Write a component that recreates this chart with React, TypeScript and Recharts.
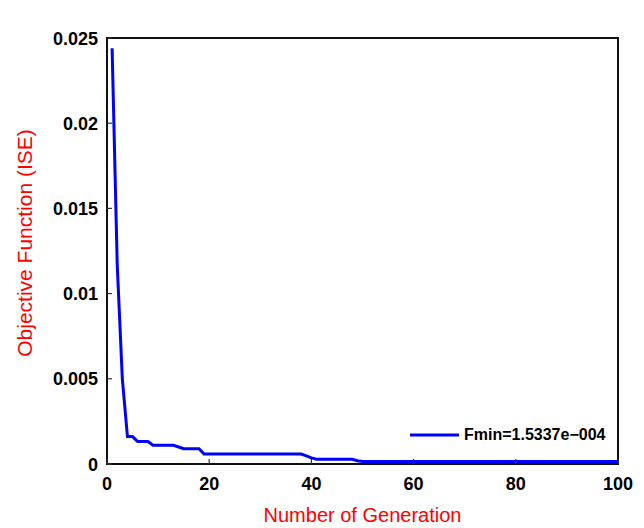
import { LineChart, Line, XAxis, YAxis, Legend, Label, ReferenceArea } from 'recharts';

// best objective value per generation
const objective = [
  0.0244, 0.0117, 0.005, 0.00161, 0.00161, 0.00132, 0.00132, 0.00132, 0.0011, 0.0011,
  0.0011, 0.0011, 0.0011, 0.001, 0.0009, 0.0009, 0.0009, 0.0009, 0.00058, 0.00058,
  0.00058, 0.00058, 0.00058, 0.00058, 0.00058, 0.00058, 0.00058, 0.00058, 0.00058, 0.00058,
  0.00058, 0.00058, 0.00058, 0.00058, 0.00058, 0.00058, 0.00058, 0.00058, 0.00048, 0.00036,
  0.00028, 0.00028, 0.00028, 0.00028, 0.00028, 0.00028, 0.00028, 0.00028, 0.00019, 0.00015337,
  0.00015337, 0.00015337, 0.00015337, 0.00015337, 0.00015337, 0.00015337, 0.00015337, 0.00015337, 0.00015337, 0.00015337,
  0.00015337, 0.00015337, 0.00015337, 0.00015337, 0.00015337, 0.00015337, 0.00015337, 0.00015337, 0.00015337, 0.00015337,
  0.00015337, 0.00015337, 0.00015337, 0.00015337, 0.00015337, 0.00015337, 0.00015337, 0.00015337, 0.00015337, 0.00015337,
  0.00015337, 0.00015337, 0.00015337, 0.00015337, 0.00015337, 0.00015337, 0.00015337, 0.00015337, 0.00015337, 0.00015337,
  0.00015337, 0.00015337, 0.00015337, 0.00015337, 0.00015337, 0.00015337, 0.00015337, 0.00015337, 0.00015337, 0.00015337,
];
const generations = objective.map((_, i) => i + 1);

const xTicks = [0, 20, 40, 60, 80, 100];
const yTicks = [0, 0.005, 0.01, 0.015, 0.02, 0.025];

const seriesName = 'Fmin=1.5337e\u2212004';
const title = 'Convergence of Objective Function';
const xTitle = 'Number of Generation';
const yTitle = 'Objective Function (ISE)';

const data = generations.map((g, i) => ({ gen: g, f: objective[i] }));

const FONT = '"Liberation Sans", Arial, Helvetica, sans-serif';
const TICK_LEN = 5;
const TICK_COLOR = '#333';
const BOX = { stroke: '#111', strokeWidth: 2 };

const BottomTick = ({ x, y, payload }: any) => (
  <g>
    <line x1={x} y1={y} x2={x} y2={y - TICK_LEN} stroke={TICK_COLOR} strokeWidth={1.2} />
    <text x={x} y={y + 26} textAnchor="middle" fontFamily={FONT} fontSize={18} fontWeight="bold" fill="#000">
      {payload.value}
    </text>
  </g>
);

const TopTick = ({ x, y }: any) => (
  <line x1={x} y1={y} x2={x} y2={y + TICK_LEN} stroke={TICK_COLOR} strokeWidth={1.2} />
);

const LeftTick = ({ x, y, payload }: any) => (
  <g>
    <line x1={x} y1={y} x2={x + TICK_LEN} y2={y} stroke={TICK_COLOR} strokeWidth={1.2} />
    <text x={x - 9} y={y + 6.5} textAnchor="end" fontFamily={FONT} fontSize={18} fontWeight="bold" fill="#000">
      {String(payload.value)}
    </text>
  </g>
);

const RightTick = ({ x, y }: any) => (
  <line x1={x} y1={y} x2={x - TICK_LEN} y2={y} stroke={TICK_COLOR} strokeWidth={1.2} />
);

const renderLegend = () => (
  <div style={{ display: 'flex', alignItems: 'center', height: 20 }}>
    <svg width={49} height={4} style={{ display: 'block' }}>
      <line x1={0} y1={2} x2={49} y2={2} stroke="#0000ff" strokeWidth={3} />
    </svg>
    <span style={{ marginLeft: 5, fontFamily: FONT, fontSize: 16, fontWeight: 'bold', color: '#000', lineHeight: '20px', whiteSpace: 'nowrap' }}>
      {seriesName}
    </span>
  </div>
);

export default function App() {
  return (
    <div style={{ position: 'absolute', left: 0, top: 0, background: '#fff' }}>
      <LineChart width={644} height={528} data={data} margin={{ top: 38, right: 26, bottom: 0, left: 0 }}>
        <XAxis
          dataKey="gen"
          type="number"
          domain={[0, 100]}
          ticks={xTicks}
          height={64}
          axisLine={BOX}
          tickLine={false}
          tickSize={0}
          tickMargin={0}
          tick={BottomTick}
        >
          <Label
            content={() => (
              <text x={362.5} y={522} textAnchor="middle" fontFamily={FONT} fontSize={20} fill="#ff0000">
                {xTitle}
              </text>
            )}
          />
        </XAxis>
        {/* top and right axes carry the inward ticks on the other two sides */}
        <XAxis
          xAxisId="top"
          dataKey="gen"
          orientation="top"
          type="number"
          domain={[0, 100]}
          ticks={xTicks}
          height={0}
          axisLine={BOX}
          tickLine={false}
          tickSize={0}
          tickMargin={0}
          tick={TopTick}
        >
          <Label
            content={() => (
              <text x={362.5} y={23} textAnchor="middle" fontFamily={FONT} fontSize={20.5} fill="#0000ff">
                {title}
              </text>
            )}
          />
        </XAxis>
        <YAxis
          type="number"
          domain={[0, 0.025]}
          ticks={yTicks}
          width={107}
          axisLine={BOX}
          tickLine={false}
          tickSize={0}
          tickMargin={0}
          tick={LeftTick}
        >
          <Label
            content={() => (
              <text
                transform="translate(32, 243) rotate(-90)"
                textAnchor="middle"
                fontFamily={FONT}
                fontSize={21}
                fill="#ff0000"
              >
                {yTitle}
              </text>
            )}
          />
        </YAxis>
        <YAxis
          yAxisId="right"
          orientation="right"
          type="number"
          domain={[0, 0.025]}
          ticks={yTicks}
          width={0}
          axisLine={BOX}
          tickLine={false}
          tickSize={0}
          tickMargin={0}
          tick={RightTick}
        />
        {/* axes box */}
        <ReferenceArea
          x1={0}
          x2={100}
          y1={0}
          y2={0.025}
          fill="none"
          fillOpacity={0}
          stroke="#111"
          strokeWidth={2}
          ifOverflow="visible"
        />
        <Legend
          layout="horizontal"
          verticalAlign="middle"
          align="center"
          wrapperStyle={{ left: 410, top: 425, width: 'auto', height: 20 }}
          content={renderLegend}
        />
        <Line
          xAxisId="top"
          yAxisId="right"
          dataKey="f"
          stroke="none"
          dot={false}
          activeDot={false}
          legendType="none"
          isAnimationActive={false}
        />
        <Line
          dataKey="f"
          name={seriesName}
          type="linear"
          stroke="#0000ff"
          strokeWidth={3}
          dot={false}
          isAnimationActive={false}
        />
      </LineChart>
    </div>
  );
}
